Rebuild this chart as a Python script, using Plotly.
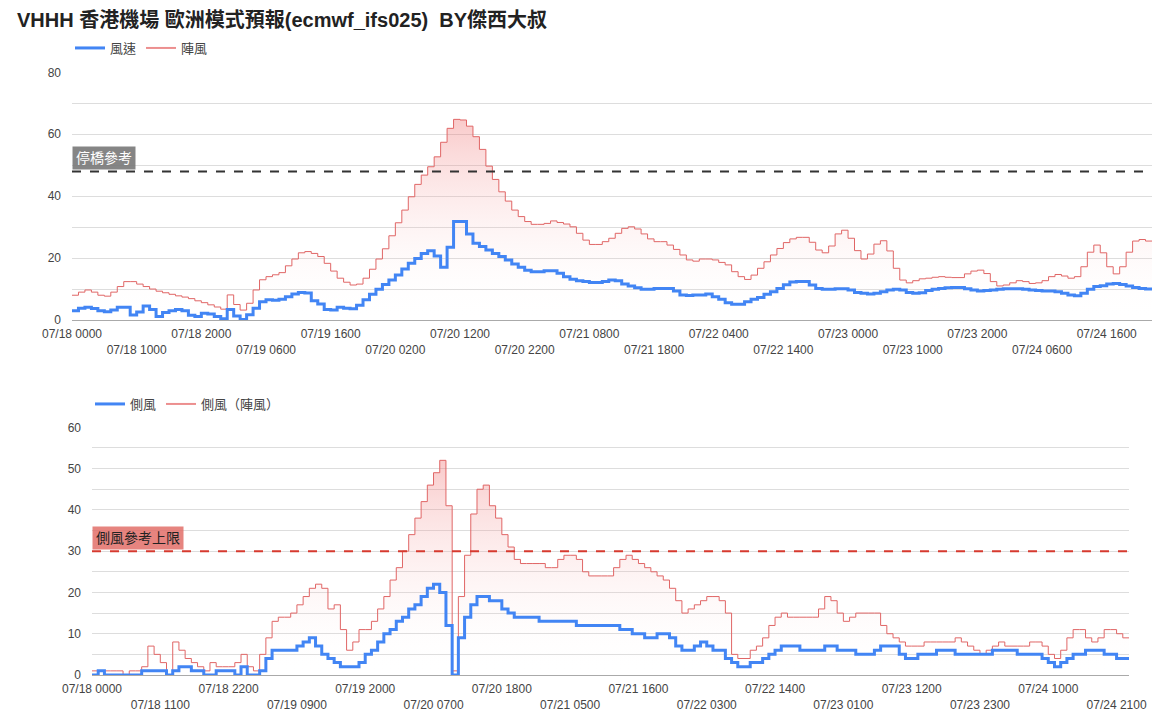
import plotly.graph_objects as go

# ---------------- data ----------------
N_HOURS = 167
HOURS = [f"07/{18 + h // 24:02d} {h % 24:02d}00" for h in range(N_HOURS)]

WIND = [3.0, 3.8, 4.1, 3.7, 3.0, 2.7, 3.2, 4.1, 4.1, 1.6, 2.6, 4.5, 3.4, 1.1, 2.4, 3.0, 3.4, 3.0, 1.5, 1.1,
        2.2, 1.9, 1.1, 0.4, 3.4, 1.3, 0.2, 1.7, 3.8, 5.9, 6.5, 6.4, 6.7, 7.5, 8.4, 8.9, 8.7, 6.2, 5.2, 3.4,
        3.2, 4.1, 3.8, 3.6, 4.8, 6.5, 8.3, 9.9, 11.5, 12.9, 14.5, 16.5, 18.3, 19.9, 21.5, 22.4, 20.7, 17.0, 23.5, 31.8,
        31.8, 27.8, 24.8, 23.7, 22.6, 21.5, 20.5, 19.4, 18.1, 17.0, 16.1, 15.6, 15.6, 15.9, 15.9, 15.1, 14.0, 13.2, 12.7, 12.4,
        12.1, 12.1, 12.4, 12.9, 12.7, 11.6, 11.0, 10.4, 9.9, 9.9, 10.2, 10.2, 10.2, 9.4, 8.1, 7.9, 8.1, 8.1, 8.4, 7.5,
        6.7, 5.6, 5.1, 5.1, 5.9, 6.7, 7.3, 8.3, 9.1, 10.2, 11.4, 12.3, 12.4, 12.4, 11.3, 10.2, 9.9, 9.9, 10.1, 10.1,
        9.7, 8.9, 8.6, 8.4, 8.6, 9.1, 9.7, 9.9, 9.7, 8.9, 8.6, 8.8, 9.5, 9.9, 10.2, 10.4, 10.5, 10.5, 10.1, 9.7,
        9.4, 9.5, 9.7, 9.9, 10.1, 10.1, 10.1, 9.9, 9.7, 9.5, 9.4, 9.4, 9.1, 8.6, 8.1, 7.8, 8.6, 9.9, 10.8, 11.1,
        11.6, 11.8, 11.5, 11.0, 10.5, 10.2, 10.0]

GUST = [8.0, 9.0, 9.7, 9.0, 8.0, 7.7, 9.0, 10.8, 12.4, 12.4, 11.6, 10.8, 10.0, 9.3, 8.8, 8.3, 7.8, 7.4, 6.9, 6.2,
        5.6, 4.9, 4.2, 3.5, 8.1, 5.0, 3.2, 5.4, 9.7, 13.0, 14.0, 14.6, 15.3, 17.5, 19.7, 21.7, 22.1, 21.5, 20.5, 18.3,
        15.8, 13.5, 12.2, 11.3, 11.6, 13.5, 16.4, 19.7, 23.0, 27.2, 31.4, 35.5, 39.8, 43.8, 46.8, 49.5, 52.7, 57.4, 61.9, 64.8,
        64.6, 62.6, 59.2, 55.1, 49.7, 45.4, 41.4, 38.4, 35.5, 33.4, 31.8, 30.9, 30.9, 31.2, 32.0, 31.5, 31.0, 30.1, 28.0, 25.8,
        24.4, 24.4, 25.3, 26.4, 28.0, 29.6, 30.1, 29.4, 27.8, 26.2, 25.3, 25.3, 24.2, 22.8, 21.0, 19.4, 19.0, 19.7, 19.7, 19.4,
        18.6, 17.8, 15.6, 14.0, 13.1, 14.5, 16.7, 18.8, 21.0, 23.1, 25.0, 26.2, 26.7, 26.7, 25.1, 22.6, 21.7, 23.9, 27.8, 29.0,
        26.4, 22.4, 19.7, 21.3, 24.5, 25.6, 22.3, 16.7, 12.9, 12.0, 12.7, 13.3, 13.5, 13.8, 14.0, 13.8, 13.7, 13.7, 14.9, 15.8,
        16.1, 15.0, 12.4, 11.0, 11.3, 12.0, 12.7, 12.4, 11.8, 12.0, 12.7, 14.0, 14.7, 14.2, 13.5, 14.0, 17.2, 21.9, 24.2, 21.7,
        17.2, 14.9, 17.2, 21.9, 25.5, 26.0, 25.5]

XWIND = [0, 1, 0, 0, 0, 0, 0, 0, 1, 1, 1, 1, 0, 1, 2, 2, 1, 1, 0, 0,
         1, 1, 1, 0, 2, 0, 0, 1, 4, 6, 6, 6, 6, 7, 8, 9, 7, 5, 4, 3,
         2, 2, 2, 3, 5, 6, 8, 10, 11, 13, 14, 16, 17, 19, 21, 22, 20, 12, 0, 9,
         14, 17, 19, 19, 18, 18, 16, 15, 14, 14, 14, 14, 13, 13, 13, 13, 13, 13, 12, 12,
         12, 12, 12, 12, 12, 11, 11, 10, 10, 9, 9, 10, 10, 9, 7, 6, 6, 7, 8, 7,
         6, 6, 4, 3, 2, 2, 3, 3, 4, 5, 6, 7, 7, 7, 6, 6, 6, 6, 7, 7,
         6, 6, 6, 5, 5, 5, 6, 7, 7, 7, 5, 4, 4, 5, 5, 5, 6, 6, 6, 5,
         5, 5, 5, 5, 5, 6, 6, 6, 6, 5, 5, 5, 5, 4, 3, 2, 3, 4, 5, 5,
         6, 6, 6, 5, 5, 4, 4]

XGUST = [1, 1, 1, 1, 1, 0, 1, 1, 2, 7, 5, 3, 0, 8, 6, 4, 3, 2, 1, 3,
         2, 2, 2, 3, 5, 2, 1, 5, 9, 13, 14, 14, 15, 17, 19, 21, 22, 21, 16, 17,
         11, 6, 8, 11, 11, 13, 16, 19, 23, 26, 30, 34, 38, 42, 46, 49, 52, 41, 1, 19,
         29, 39, 45, 46, 41, 38, 34, 31, 28, 27, 27, 27, 27, 26, 26, 28, 29, 29, 28, 25,
         24, 24, 24, 24, 26, 28, 29, 28, 27, 26, 25, 24, 23, 21, 18, 15, 16, 17, 18, 19,
         19, 18, 15, 5, 4, 4, 6, 7, 9, 12, 14, 15, 14, 14, 14, 14, 14, 16, 19, 18,
         15, 13, 14, 15, 15, 15, 15, 12, 10, 9, 8, 7, 7, 7, 8, 8, 8, 8, 8, 9,
         8, 7, 6, 5, 6, 7, 8, 7, 7, 7, 7, 8, 8, 7, 5, 4, 6, 9, 11, 11,
         9, 8, 9, 11, 11, 10, 9]

TOP_TICKS = ["07/18 0000", "07/18 1000", "07/18 2000", "07/19 0600", "07/19 1600", "07/20 0200",
             "07/20 1200", "07/20 2200", "07/21 0800", "07/21 1800", "07/22 0400", "07/22 1400",
             "07/23 0000", "07/23 1000", "07/23 2000", "07/24 0600", "07/24 1600"]
BOT_TICKS = ["07/18 0000", "07/18 1100", "07/18 2200", "07/19 0900", "07/19 2000", "07/20 0700",
             "07/20 1800", "07/21 0500", "07/21 1600", "07/22 0300", "07/22 1400", "07/23 0100",
             "07/23 1200", "07/23 2300", "07/24 1000", "07/24 2100"]

BRIDGE_LIMIT = 48
XWIND_LIMIT = 30

# ---------------- styling ----------------
W, H = 1169, 725
FONT = "Liberation Sans, Arial, Noto Sans CJK TC, sans-serif"
BLUE = "#4285f4"
RED = "#e06666"
GRID = "#dddddd"
TXT = "#444444"


def px_x(p):
    return p / W


def px_y(p):
    return 1 - p / H


xs = list(range(N_HOURS + 1))


def stepped(vals):
    return list(vals) + [vals[-1]]


fig = go.Figure()

GRAD = [[0, "rgba(255,255,255,0)"], [1, "rgba(238,100,100,0.34)"]]

# --- top chart ---
fig.add_trace(go.Scatter(x=xs, y=stepped(GUST), mode="lines", line=dict(shape="hv", color=RED, width=1),
                         fill="tozeroy",
                         fillgradient=dict(type="vertical", colorscale=GRAD, start=0, stop=max(GUST)),
                         xaxis="x", yaxis="y", showlegend=False, hoverinfo="skip"))
fig.add_trace(go.Scatter(x=xs, y=stepped(WIND), mode="lines", line=dict(shape="hv", color=BLUE, width=3),
                         xaxis="x", yaxis="y", showlegend=False, hoverinfo="skip"))
fig.add_trace(go.Scatter(x=[None], y=[None], mode="lines", line=dict(color=BLUE, width=3), name="風速",
                         xaxis="x", yaxis="y", legend="legend"))
fig.add_trace(go.Scatter(x=[None], y=[None], mode="lines", line=dict(color="#ec8f8f", width=2), name="陣風",
                         xaxis="x", yaxis="y", legend="legend"))

# --- bottom chart ---
fig.add_trace(go.Scatter(x=xs, y=stepped(XGUST), mode="lines", line=dict(shape="hv", color=RED, width=1),
                         fill="tozeroy",
                         fillgradient=dict(type="vertical", colorscale=GRAD, start=0, stop=max(XGUST)),
                         xaxis="x2", yaxis="y2", showlegend=False, hoverinfo="skip"))
fig.add_trace(go.Scatter(x=xs, y=stepped(XWIND), mode="lines", line=dict(shape="hv", color=BLUE, width=3),
                         xaxis="x2", yaxis="y2", showlegend=False, hoverinfo="skip"))
fig.add_trace(go.Scatter(x=[None], y=[None], mode="lines", line=dict(color=BLUE, width=3), name="側風",
                         xaxis="x2", yaxis="y2", legend="legend2"))
fig.add_trace(go.Scatter(x=[None], y=[None], mode="lines", line=dict(color="#ec8f8f", width=2), name="側風（陣風）",
                         xaxis="x2", yaxis="y2", legend="legend2"))


def ticktext(labels):
    return [lab if k % 2 == 0 else "<br>" + lab for k, lab in enumerate(labels)]


axis_common = dict(showgrid=False, zeroline=False, showline=False, ticks="", tickangle=0, automargin=False,
                   ticklabelstandoff=5,
                   tickfont=dict(size=12, color=TXT, family=FONT), range=[0, N_HOURS], fixedrange=True)
yaxis_common = dict(showgrid=True, gridcolor=GRID, zeroline=True, zerolinecolor="#aaaaaa", zerolinewidth=1,
                    tickfont=dict(size=12, color=TXT, family=FONT), ticklabelstandoff=10, fixedrange=True,
                    automargin=False, ticks="")

fig.update_layout(
    width=W, height=H,
    margin=dict(l=0, r=0, t=0, b=0, autoexpand=False),
    paper_bgcolor="white", plot_bgcolor="white",
    font=dict(family=FONT, color=TXT),
    title=dict(text="<b>VHHH 香港機場 歐洲模式預報(ecmwf_ifs025)  BY傑西大叔</b>",
               x=px_x(17), xanchor="left", xref="paper", y=px_y(20), yanchor="middle", yref="paper",
               font=dict(size=20, color="#222222", family=FONT)),
    xaxis=dict(domain=[px_x(72), px_x(1152)], anchor="y",
               tickvals=[HOURS.index(t) for t in TOP_TICKS], ticktext=ticktext(TOP_TICKS), **axis_common),
    yaxis=dict(domain=[px_y(320), px_y(72.3)], range=[0, 80], anchor="x", tickvals=list(range(0, 81, 10)),
               ticktext=[str(v) if v % 20 == 0 else "" for v in range(0, 81, 10)], **yaxis_common),
    xaxis2=dict(domain=[px_x(92), px_x(1129)], anchor="y2",
                tickvals=[HOURS.index(t) for t in BOT_TICKS], ticktext=ticktext(BOT_TICKS), **axis_common),
    yaxis2=dict(domain=[px_y(675), px_y(427.3)], range=[0, 60], anchor="x2", tickvals=list(range(0, 61, 5)),
                ticktext=[str(v) if v % 10 == 0 else "" for v in range(0, 61, 5)], **yaxis_common),
    legend=dict(orientation="h", x=px_x(70), y=px_y(33), xanchor="left", yanchor="top",
                font=dict(size=13, color=TXT, family=FONT), itemwidth=30, bgcolor="rgba(0,0,0,0)",
                tracegroupgap=0),
    legend2=dict(orientation="h", x=px_x(90), y=px_y(389), xanchor="left", yanchor="top",
                 font=dict(size=13, color=TXT, family=FONT), itemwidth=30, bgcolor="rgba(0,0,0,0)",
                 tracegroupgap=0),
    shapes=[
        dict(type="line", xref="x", yref="y", x0=0, x1=N_HOURS, y0=BRIDGE_LIMIT, y1=BRIDGE_LIMIT,
             line=dict(color="#333333", width=2, dash="dash")),
        dict(type="line", xref="x2", yref="y2", x0=0, x1=N_HOURS, y0=XWIND_LIMIT, y1=XWIND_LIMIT,
             line=dict(color="#d63a2f", width=2, dash="dash")),
    ],
    annotations=[
        dict(xref="x", yref="y", x=0, y=BRIDGE_LIMIT, xanchor="left", yanchor="bottom", yshift=1,
             text="停橋參考", showarrow=False, bgcolor="rgba(120,120,120,0.9)", borderpad=3,
             font=dict(size=14, color="white", family=FONT)),
        dict(xref="x2", yref="y2", x=0, y=XWIND_LIMIT, xanchor="left", yanchor="bottom", yshift=1,
             text="側風參考上限", showarrow=False, bgcolor="rgba(226,110,104,0.85)", borderpad=3,
             font=dict(size=14, color="#222222", family=FONT)),
    ],
)

fig.write_html("out.html")
